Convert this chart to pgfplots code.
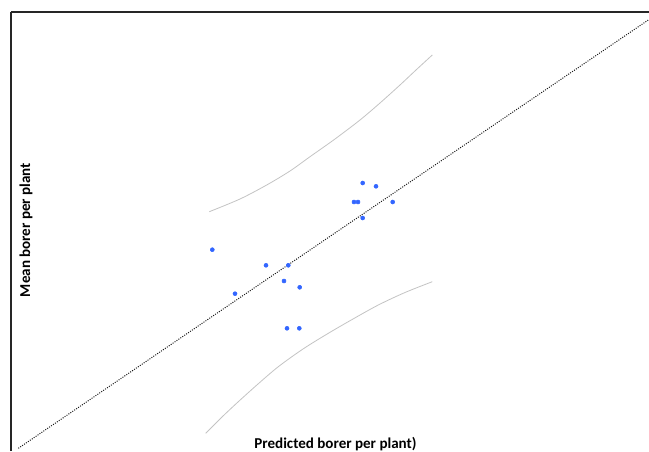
\documentclass[border=0pt]{standalone}
\usepackage{fontspec}
\setmainfont{Carlito}
\usepackage{pgfplots}
\pgfplotsset{compat=1.18}
\definecolor{ptblue}{RGB}{51,102,255}
\definecolor{bandgray}{RGB}{195,195,195}
\begin{document}
\begin{tikzpicture}
\begin{axis}[
  scale only axis,
  width=478.5pt, height=329.25pt,
  xmin=11, xmax=649, ymin=0, ymax=439,
  axis x line*=top, axis y line*=left,
  axis line style={-, black!85, line width=1.1pt},
  ticks=none,
  clip=false,
]
\addplot[black!90, densely dotted, line width=0.75pt] coordinates {(18.3,2.7) (649,431.5)};
\addplot[bandgray, line width=0.6pt, smooth] coordinates {
 (209.3,239.3) (240,252) (266.7,266) (290,280) (310,294.3) (335,312) (360,331) (380,348) (400,366) (416,381) (432.3,396)};
\addplot[bandgray, line width=0.6pt, smooth] coordinates {
 (205.7,17.7) (222,34) (238.3,49.3) (258,67) (278.3,84.3) (303,102) (328.3,117.7) (353,132) (378.3,146) (405,158.5) (432.3,169.3)};
\addplot[only marks, mark=*, mark size=1.5pt, ptblue, mark options={draw=ptblue, fill=ptblue}] coordinates {
 (212.3,201.3) (235,157.3) (266,185.7) (288.3,185.7) (284,170) (299.7,163.7)
 (287,122.7) (299.3,122.7) (354,249) (358,249) (362.7,268) (376,264.7)
 (392.7,249) (362.7,233)};
\node[anchor=base, font=\fontsize{11.3}{13}\selectfont\bfseries] at (axis cs:335.5,3) {Predicted borer per plant)};
\node[anchor=base, rotate=90, font=\fontsize{11.3}{13}\selectfont\bfseries] at (axis cs:30,221) {Mean borer per plant};
\coordinate (bl) at (axis cs:0,0);
\coordinate (tr) at (axis cs:649,451);
\end{axis}
\pgfresetboundingbox
\path[use as bounding box] (bl) rectangle (tr);
\end{tikzpicture}
\end{document}
